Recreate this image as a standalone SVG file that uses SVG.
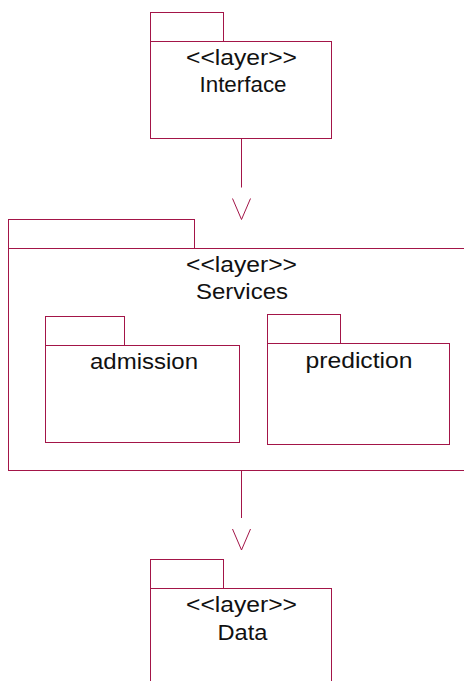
<svg xmlns="http://www.w3.org/2000/svg" width="464" height="681" viewBox="0 0 464 681">
<defs>
<style>
.pk{fill:#ffffff;stroke:#A31548;stroke-width:1}
.t{font-family:"Liberation Sans",Arial,sans-serif;font-size:22px;fill:#111111;text-anchor:middle}
.c{fill:none;stroke:#A31548;stroke-width:1}
</style>
<marker id="open" markerUnits="userSpaceOnUse" orient="auto" viewBox="0 -10 40 20" refX="0" refY="0" markerWidth="40" markerHeight="20" overflow="visible">
<path d="M 11 -9 L 32 0 L 11 9" fill="none" stroke="#A31548" stroke-width="1"/>
</marker>
</defs>
<rect width="464" height="681" fill="#ffffff"/>
<g id="interface">
<rect class="pk" x="150.5" y="12.5" width="73" height="29"/>
<rect class="pk" x="150.5" y="41.5" width="181" height="97"/>
<text class="t" x="241.5" y="65" textLength="111" lengthAdjust="spacingAndGlyphs">&lt;&lt;layer&gt;&gt;</text>
<text class="t" x="243" y="92" textLength="87" lengthAdjust="spacingAndGlyphs">Interface</text>
</g>
<g id="services">
<rect class="pk" x="8.5" y="219.5" width="186" height="29"/>
<rect class="pk" x="8.5" y="248.5" width="470" height="222"/>
<text class="t" x="241.5" y="272" textLength="111" lengthAdjust="spacingAndGlyphs">&lt;&lt;layer&gt;&gt;</text>
<text class="t" x="242" y="299" textLength="92" lengthAdjust="spacingAndGlyphs">Services</text>
</g>
<g id="admission">
<rect class="pk" x="45.5" y="316.5" width="79" height="29"/>
<rect class="pk" x="45.5" y="345.5" width="194" height="97"/>
<text class="t" x="144" y="369" textLength="108" lengthAdjust="spacingAndGlyphs">admission</text>
</g>
<g id="prediction">
<rect class="pk" x="267.5" y="314.5" width="73" height="29"/>
<rect class="pk" x="267.5" y="343.5" width="182" height="101"/>
<text class="t" x="359" y="368" textLength="107" lengthAdjust="spacingAndGlyphs">prediction</text>
</g>
<g id="data">
<rect class="pk" x="150.5" y="559.5" width="73" height="29"/>
<rect class="pk" x="150.5" y="588.5" width="181" height="120"/>
<text class="t" x="241.5" y="612" textLength="111" lengthAdjust="spacingAndGlyphs">&lt;&lt;layer&gt;&gt;</text>
<text class="t" x="242.5" y="640" textLength="50" lengthAdjust="spacingAndGlyphs">Data</text>
</g>
<g id="connectors">
<line class="c" x1="241.5" y1="138.5" x2="241.5" y2="187.5" marker-end="url(#open)"/>
<line class="c" x1="241.5" y1="471" x2="241.5" y2="518" marker-end="url(#open)"/>
</g>
</svg>
